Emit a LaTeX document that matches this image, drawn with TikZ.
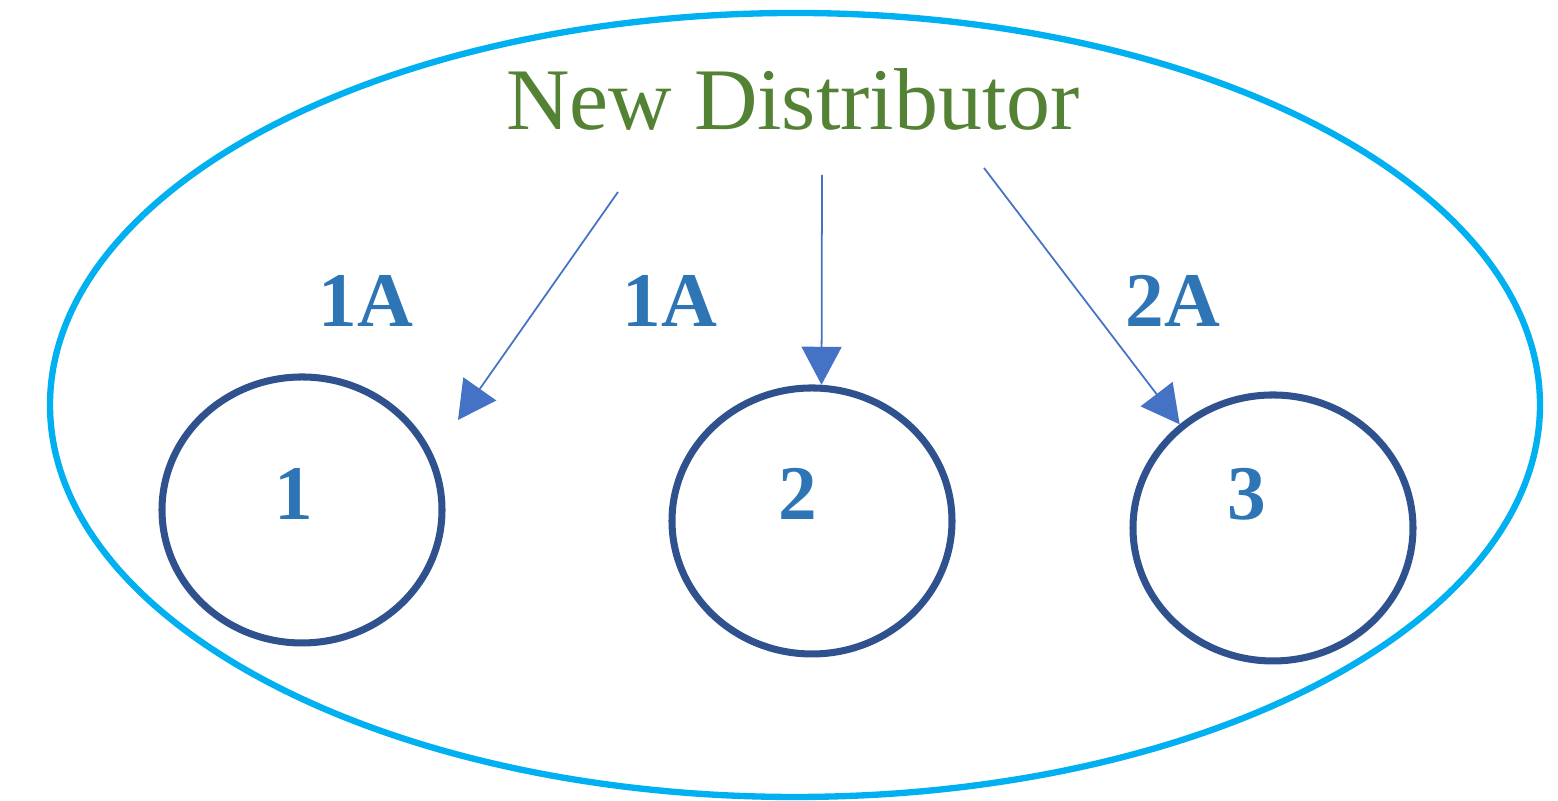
\documentclass[tikz,border=0pt]{standalone}
\usepackage{fontspec}
\setmainfont{Liberation Serif}
\usepackage{tikz}
\usetikzlibrary{shapes.geometric, arrows.meta, positioning}
\definecolor{ringblue}{HTML}{00B0F0}
\definecolor{circblue}{HTML}{2F528F}
\definecolor{textblue}{HTML}{2E75B6}
\definecolor{arrowblue}{HTML}{4472C4}
\definecolor{titlegreen}{HTML}{548235}
\tikzset{
    shop/.style = {ellipse, draw = circblue, line width = 2pt, minimum width = 2.8cm, minimum height = 2.66cm, inner sep = 0pt},
    amount/.style = {text = textblue, font = \fontsize{22}{24}\selectfont\bfseries, anchor = base, inner sep = 0pt},
    flow/.style = {draw = arrowblue, line width = 0.5pt, -{Triangle[length = 3.8mm, width = 4mm]}}
}
\begin{document}
\begin{tikzpicture}[scale = 1.0]
    \useasboundingbox (0,0) rectangle (15.58,8.01);
    % Distributore
    \node[ellipse, draw = ringblue, line width = 1.8pt, minimum width = 14.9cm, minimum height = 7.84cm, inner sep = 0pt] (dist) at (7.95,3.96){};
    \node[anchor = base, text = titlegreen, inner sep = 0pt, font = \fontsize{25}{27}\selectfont] (title) at (7.93,6.71){New Distributor};
    % Negozi
    \node[shop] (c1) at (3.02,2.91){};
    \node[shop] (c2) at (8.12,2.80){};
    \node[shop] (c3) at (12.73,2.73){};
    \node[amount] (n1) at (2.94,2.81){1};
    \node[amount] (n2) at (7.98,2.81){2};
    \node[amount] (n3) at (12.47,2.81){3};
    % Frecce
    \coordinate (s1) at (6.18,6.09);
    \coordinate (e1) at (4.58,3.81);
    \coordinate (s2) at (8.22,6.26);
    \coordinate (s3) at (9.84,6.33);
    \draw[flow] (s1) -- (e1);
    \draw[flow] (s2) -- (c2.86);
    \draw[flow] (s3) -- (c3.132);
    % Quantita
    \node[amount] (q1) at (3.66,4.74){1A};
    \node[amount] (q2) at (6.70,4.74){1A};
    \node[amount] (q3) at (11.73,4.74){2A};
\end{tikzpicture}
\end{document}
